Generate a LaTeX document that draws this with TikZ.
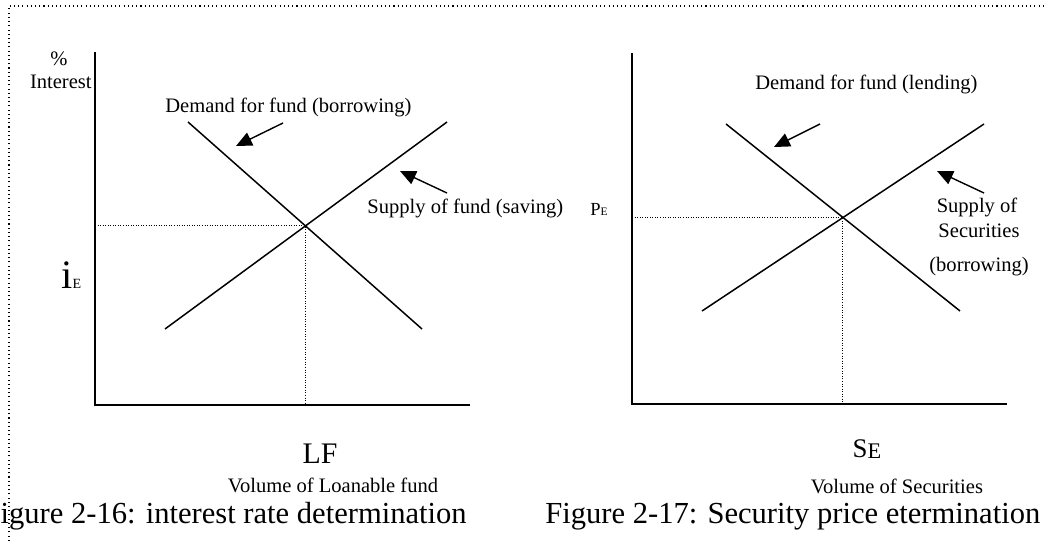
\documentclass[tikz,border=0pt]{standalone}
\usepackage{fontspec}
\setmainfont{Liberation Serif}
\usetikzlibrary{arrows.meta,positioning}

\begin{document}
\begin{tikzpicture}[x=0.02cm,y=-0.02cm,
    axis/.style={line width=1.1pt},
    curve/.style={line width=0.85pt},
    guide/.style={line width=0.55pt,dash pattern=on 0.55pt off 0.9pt},
    pointer/.style={line width=0.8pt,-{Triangle[length=9pt,width=8pt]}},
    lbl/.style={inner sep=0pt,anchor=base,font=\fontsize{11.7}{13}\selectfont},
    big/.style={inner sep=0pt,anchor=base,font=\fontsize{17}{19}\selectfont},
    figcap/.style={inner sep=0pt,font=\fontsize{17.4}{20}\selectfont}]
  \useasboundingbox (0,0) rectangle (1047,541);
  \clip (0,0) rectangle (1047,541);
  % dotted frame
  \draw[line width=0.6pt,dash pattern=on 0.6pt off 1.8pt] (9,545) -- (9,6) -- (1050,6);

  % Figure 2-16
  \coordinate (lf_top) at (95,52);
  \coordinate (lf_o) at (95,405);
  \coordinate (lf_end) at (470,405);
  \coordinate (dem1_a) at (188,122);
  \coordinate (dem1_b) at (422,329);
  \coordinate (sup1_a) at (165,329);
  \coordinate (sup1_b) at (447,122);
  \coordinate (eq1) at (intersection of dem1_a--dem1_b and sup1_a--sup1_b);
  \draw[axis] (lf_top) -- (lf_o) -- (lf_end);
  \draw[curve] (dem1_a) -- (dem1_b);
  \draw[curve] (sup1_a) -- (sup1_b);
  \draw[guide] (lf_top |- eq1) -- (eq1) -- (eq1 |- lf_o);
  \node[lbl] (pct) at (59,65) {\%};
  \node[lbl,anchor=base east] (interest) at (92,88) {Interest};
  \node[lbl,anchor=base west] (dem1_lbl) at (165,112) {Demand for fund (borrowing)};
  \node[lbl,anchor=base west] (sup1_lbl) at (367,213) {Supply of fund (saving)};
  \node[big,anchor=base west] (i_e) at (61,288) {{\fontsize{23}{25}\selectfont i}{\fontsize{8}{9}\selectfont E}};
  \node[big] (lf) at (320,463) {LF};
  \node[lbl] (vol1) at (333,492) {Volume of Loanable fund};
  \node[figcap,anchor=base east] (fig1) at (467,523) {Figure 2-16: interest rate determination};
  \coordinate (ptr1_a) at (283,123);
  \coordinate (ptr1_b) at (236,146);
  \coordinate (ptr2_a) at (447,193);
  \coordinate (ptr2_b) at (400,171);
  \draw[pointer] (ptr1_a) -- (ptr1_b);
  \draw[pointer] (ptr2_a) -- (ptr2_b);

  % Figure 2-17
  \coordinate (se_top) at (632,53);
  \coordinate (se_o) at (632,404);
  \coordinate (se_end) at (1007,404);
  \coordinate (dem2_a) at (726,124);
  \coordinate (dem2_b) at (960,311);
  \coordinate (sup2_a) at (702,311);
  \coordinate (sup2_b) at (984,124);
  \coordinate (eq2) at (intersection of dem2_a--dem2_b and sup2_a--sup2_b);
  \draw[axis] (se_top) -- (se_o) -- (se_end);
  \draw[curve] (dem2_a) -- (dem2_b);
  \draw[curve] (sup2_a) -- (sup2_b);
  \draw[guide] (se_top |- eq2) -- (eq2) -- (eq2 |- se_o);
  \node[lbl,anchor=base west] (dem2_lbl) at (755,89) {Demand for fund (lending)};
  \node[lbl] (sup2_lbl) at (977,212) {Supply of};
  \node[lbl] (sec_lbl) at (979,237) {Securities};
  \node[lbl] (bor_lbl) at (979,271) {(borrowing)};
  \node[lbl,anchor=base west] (p_e) at (590,215) {{\fontsize{10.5}{12}\selectfont P}{\fontsize{6.5}{7}\selectfont E}};
  \node[big] (s_e) at (867,457) {{\fontsize{15.3}{17}\selectfont S}\raisebox{-1.1pt}{\fontsize{12.7}{14}\selectfont E}};
  \node[lbl] (vol2) at (897,493) {Volume of Securities};
  \node[figcap,anchor=base west] (fig2) at (545,523) {Figure 2-17: Security price etermination};
  \coordinate (ptr3_a) at (820,124);
  \coordinate (ptr3_b) at (774,147);
  \coordinate (ptr4_a) at (984,193);
  \coordinate (ptr4_b) at (937,171);
  \draw[pointer] (ptr3_a) -- (ptr3_b);
  \draw[pointer] (ptr4_a) -- (ptr4_b);
\end{tikzpicture}
\end{document}
